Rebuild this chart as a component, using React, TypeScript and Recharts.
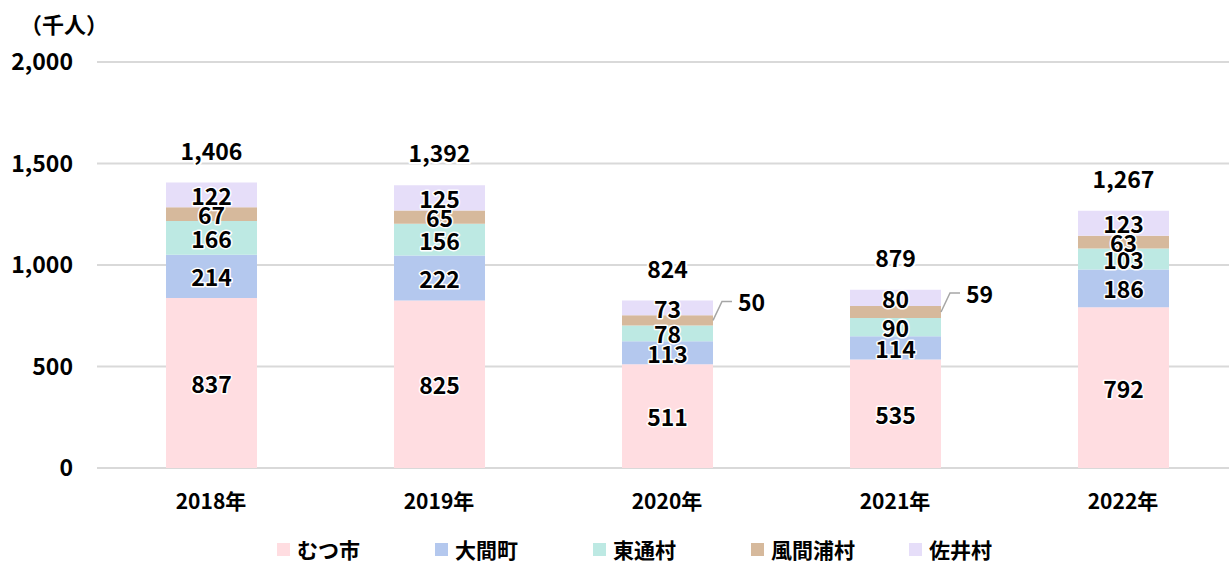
import React from 'react';
import { BarChart, Bar, XAxis, YAxis, CartesianGrid, Legend, LabelList } from 'recharts';

const years = ['2018年', '2019年', '2020年', '2021年', '2022年'];
const mutsu = [837, 825, 511, 535, 792];
const oma = [214, 222, 113, 114, 186];
const higashidori = [166, 156, 78, 90, 103];
const kazamaura = [67, 65, 50, 59, 63];
const sai = [122, 125, 73, 80, 123];
const totals = [1406, 1392, 824, 879, 1267];
const yTicks = [0, 500, 1000, 1500, 2000];
const seriesKeys = ['mutsu', 'oma', 'higashidori', 'kazamaura', 'sai'];
const seriesNames = ['むつ市', '大間町', '東通村', '風間浦村', '佐井村'];
const colors = ['#FFDDE1', '#B4C8EE', '#BDE9E3', '#D6B99C', '#E6DEF9'];

const data = years.map((y, i) => ({
  year: y,
  mutsu: mutsu[i],
  oma: oma[i],
  higashidori: higashidori[i],
  kazamaura: kazamaura[i],
  sai: sai[i],
  total: totals[i],
}));

const FONT = '"Noto Sans CJK JP", "Noto Sans", sans-serif';

const fmt = (v: number) => v.toLocaleString('en-US');

const textStyle: React.CSSProperties = {
  fontFamily: FONT,
  fontWeight: 700,
  fontSize: 23,
};

const InsideLabel = (props: any) => {
  const { x, y, width, height, value } = props;
  return (
    <text
      x={x + width / 2}
      y={y + height / 2}
      textAnchor="middle"
      dominantBaseline="central"
      fill="#000"
      stroke="#fff"
      strokeWidth={3}
      strokeLinejoin="round"
      paintOrder="stroke"
      style={textStyle}
    >
      {fmt(value)}
    </text>
  );
};

const KazamauraLabel = (props: any) => {
  const { x, y, width, height, value } = props;
  if (value < 60) {
    const x0 = x + width;
    const y0 = y + height / 2;
    const y1 = y0 - 19;
    return (
      <g>
        <polyline
          points={`${x0},${y0} ${x0 + 9},${y1} ${x0 + 19},${y1}`}
          fill="none"
          stroke="#A6A6A6"
          strokeWidth={1.5}
        />
        <text
          x={x0 + 25}
          y={y1}
          textAnchor="start"
          dominantBaseline="central"
          fill="#000"
          style={textStyle}
        >
          {fmt(value)}
        </text>
      </g>
    );
  }
  return <InsideLabel {...props} />;
};

const TotalLabel = (props: any) => {
  const { x, y, width, value } = props;
  return (
    <text
      x={x + width / 2}
      y={y - 33}
      textAnchor="middle"
      dominantBaseline="central"
      fill="#000"
      stroke="#fff"
      strokeWidth={4}
      strokeLinejoin="round"
      paintOrder="stroke"
      style={textStyle}
    >
      {fmt(value)}
    </text>
  );
};

const LegendContent = () => (
  <div style={{ height: 34, position: 'relative' }}>
    <div style={{ display: 'flex', paddingLeft: 277, height: 24, alignItems: 'center', position: 'absolute', left: 0, top: 8 }}>
      {seriesNames.map((n, i) => (
        <div key={n} style={{ width: 158, display: 'flex', alignItems: 'center', height: 24 }}>
          <span style={{ width: 13, height: 13, background: colors[i], display: 'inline-block', marginRight: 7 }} />
          <span style={{ fontFamily: FONT, fontWeight: 700, fontSize: 21, color: '#000', lineHeight: '24px' }}>{n}</span>
        </div>
      ))}
    </div>
  </div>
);

export default function App() {
  return (
    <div style={{ position: 'absolute', left: 0, top: 0, width: 1229, height: 563, overflow: 'hidden', background: '#fff' }}>
      <div style={{ position: 'absolute', left: 20, top: 7, fontFamily: FONT, fontWeight: 700, fontSize: 22, color: '#000' }}>
        （千人）
      </div>
      <BarChart
        width={1240}
        height={563}
        data={data}
        margin={{ top: 62, right: 3, bottom: 0, left: 0 }}
        barSize={91}
      >
        <CartesianGrid vertical={false} stroke="#D9D9D9" strokeWidth={2} />
        <XAxis
          dataKey="year"
          axisLine={false}
          tickLine={false}
          height={61}
          tickMargin={20}
          tick={{ fill: '#000', fontFamily: FONT, fontWeight: 700, fontSize: 21 }}
        />
        <YAxis
          domain={[0, 2000]}
          ticks={yTicks}
          axisLine={false}
          tickLine={false}
          width={97}
          tickMargin={18}
          tickFormatter={(v: number) => fmt(v)}
          tick={{ fill: '#000', fontFamily: FONT, fontWeight: 700, fontSize: 23 }}
        />
        <Legend verticalAlign="bottom" height={34} content={<LegendContent />} />
        {seriesKeys.map((k, i) => (
          <Bar key={k} dataKey={k} name={seriesNames[i]} stackId="a" fill={colors[i]} isAnimationActive={false}>
            <LabelList dataKey={k} content={k === 'kazamaura' ? <KazamauraLabel /> : <InsideLabel />} />
            {k === 'sai' ? <LabelList dataKey="total" content={<TotalLabel />} /> : null}
          </Bar>
        ))}
      </BarChart>
    </div>
  );
}
